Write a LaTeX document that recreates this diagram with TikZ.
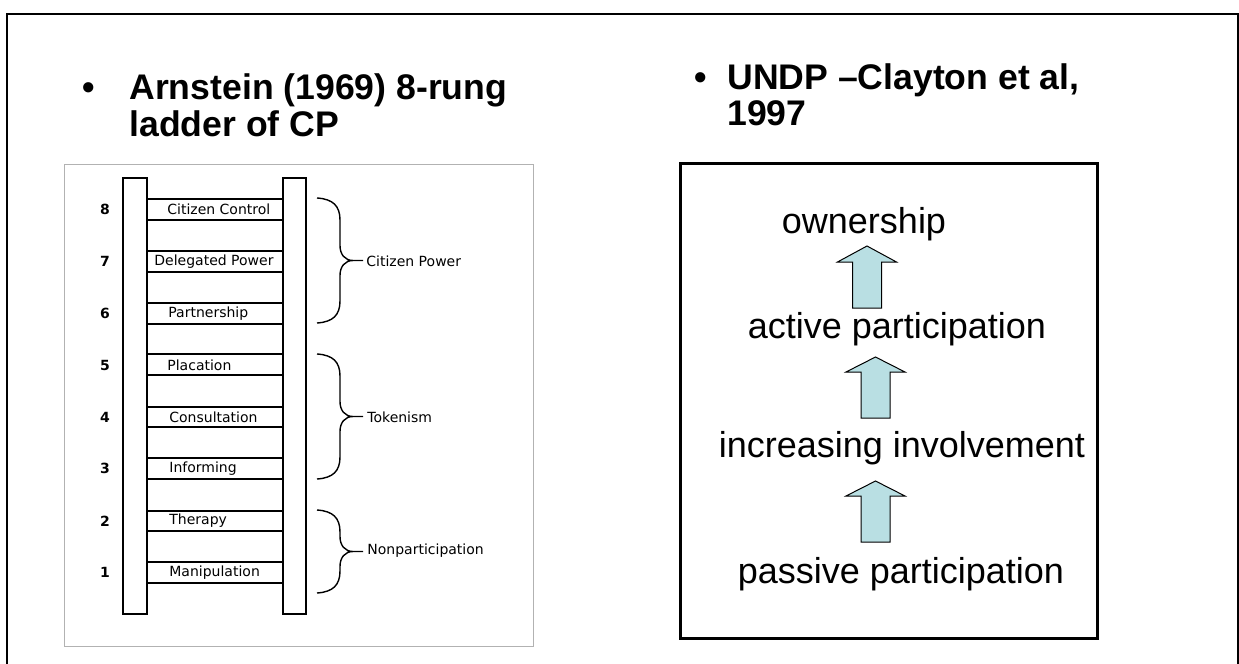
\documentclass[tikz,border=0pt]{standalone}
\usepackage{fontspec}
\setmainfont{Liberation Sans}
\newfontfamily\ladderfont{DejaVu Sans}
\definecolor{arrowblue}{RGB}{185,223,227}
\begin{document}
\begin{tikzpicture}[x=0.5pt,y=-0.5pt,
    frame/.style={line width=1pt},
    rail/.style={draw,line width=1pt,fill=white},
    rung/.style={line width=0.7pt},
    small/.style={font=\ladderfont\fontsize{7}{8}\selectfont,inner sep=0pt},
    num/.style={small,font=\ladderfont\bfseries\fontsize{7}{8}\selectfont},
    rungtext/.style={small,anchor=west},
    heading/.style={font=\bfseries\fontsize{17.8}{18}\selectfont,anchor=base west,inner sep=0pt},
    stage/.style={font=\fontsize{18}{20}\selectfont,anchor=base,inner sep=0pt},
    uparrow/.style={draw,line width=0.5pt,fill=arrowblue}]
    \useasboundingbox (0,0) rectangle (1239,664);
    \draw[frame] (7,664) -- (7,14) -- (1238,14) -- (1238,664);
    \node[heading] (arnbullet) at (82,99) {•};
    \node[heading] (arnline1) at (129,99) {Arnstein (1969) 8-rung};
    \node[heading] (arnline2) at (129,136) {ladder of CP};
    \node[heading] (undpbullet) at (694,90) {•};
    \node[heading] (undpline1) at (727,90) {UNDP –Clayton et al,};
    \node[heading] (undpline2) at (727,126) {1997};
    \draw[gray!60,line width=0.5pt] (64,164) rectangle (533,646);
    \draw[rung] (147,199) -- (283,199) (147,220) -- (283,220);
    \draw[rung] (147,251) -- (283,251) (147,272) -- (283,272);
    \draw[rung] (147,303) -- (283,303) (147,324) -- (283,324);
    \draw[rung] (147,354) -- (283,354) (147,375) -- (283,375);
    \draw[rung] (147,407) -- (283,407) (147,427) -- (283,427);
    \draw[rung] (147,458) -- (283,458) (147,479) -- (283,479);
    \draw[rung] (147,511) -- (283,511) (147,531) -- (283,531);
    \draw[rung] (147,562) -- (283,562) (147,583) -- (283,583);
    \draw[rail] (123,178) rectangle (147,614);
    \draw[rail] (283,178) rectangle (306,614);
    \node[num] (n8) at (105,209.5) {8};
    \node[num] (n7) at (105,261.5) {7};
    \node[num] (n6) at (105,313.5) {6};
    \node[num] (n5) at (105,365) {5};
    \node[num] (n4) at (105,417) {4};
    \node[num] (n3) at (105,468.5) {3};
    \node[num] (n2) at (105,521) {2};
    \node[num] (n1) at (105,572.5) {1};
    \node[rungtext] (control) at (167,209.5) {Citizen Control};
    \node[rungtext] (delegated) at (154,261.5) {Delegated Power};
    \node[rungtext] (partnership) at (168,313.5) {Partnership};
    \node[rungtext] (placation) at (167,365) {Placation};
    \node[rungtext] (consultation) at (169,417) {Consultation};
    \node[rungtext] (informing) at (169,468.5) {Informing};
    \node[rungtext] (therapy) at (169,521) {Therapy};
    \node[rungtext] (manipulation) at (169,572.5) {Manipulation};
    \foreach \t/\b in {198/323,354/479,510/593}{
        \pgfmathsetmacro\m{(\t+\b)/2}
        \draw[rung] (317,\t) .. controls (333,\t+1) and (340,\t+8) .. (340,\t+22) -- (340,\m-15)
            .. controls (340,\m-6) and (345,\m) .. (353,\m) -- (363,\m)
            (353,\m) .. controls (345,\m) and (340,\m+6) .. (340,\m+15) -- (340,\b-22)
            .. controls (340,\b-8) and (333,\b-1) .. (317,\b);
    }
    \node[rungtext] (citpower) at (366,261) {Citizen Power};
    \node[rungtext] (tokenism) at (367,417) {Tokenism};
    \node[rungtext] (nonpart) at (367,551) {Nonparticipation};
    \draw[line width=1.5pt] (680,163) rectangle (1097,638);
    \node[stage] (ownership) at (864,233) {ownership};
    \node[stage] (active) at (897,338) {active participation};
    \node[stage] (increasing) at (902,457) {increasing involvement};
    \node[stage] (passive) at (901,583) {passive participation};
    \draw[uparrow] (867,246) -- (896.5,262) -- (881.5,262) -- (881.5,308) -- (852.5,308) -- (852.5,262) -- (837.5,262) -- cycle;
    \draw[uparrow] (875.5,357) -- (905,372) -- (890,372) -- (890,418) -- (861,418) -- (861,372) -- (846,372) -- cycle;
    \draw[uparrow] (875.5,481) -- (905,496) -- (890,496) -- (890,542) -- (861,542) -- (861,496) -- (846,496) -- cycle;
\end{tikzpicture}
\end{document}
